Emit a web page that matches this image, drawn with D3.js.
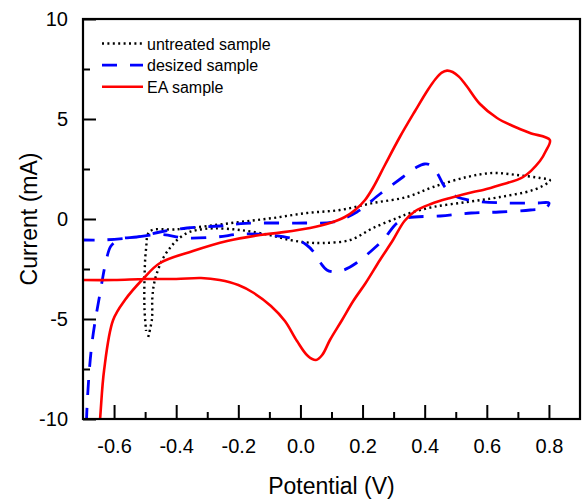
<!DOCTYPE html>
<html>
<head>
<meta charset="utf-8">
<script src="https://cdn.jsdelivr.net/npm/d3@7"></script>
<style>
  body { margin: 0; background: #fff; }
  text { font-family: Arial, "Liberation Sans", sans-serif; fill: #000; }
</style>
</head>
<body>
<svg id="chart" width="583" height="502"></svg>
<script>
// series labels
const seriesNames = ["untreated sample", "desized sample", "EA sample"];

// untreated sample: [potential V, current mA], one closed sweep
const untreated = [
  [-0.49, -5.9], [-0.478, -5.0], [-0.477, -4.0], [-0.472, -3.3], [-0.462, -2.7],
  [-0.442, -1.95], [-0.42, -1.45], [-0.397, -1.05], [-0.365, -0.7], [-0.333, -0.55],
  [-0.281, -0.47], [-0.195, -0.55], [-0.1, -0.8], [-0.034, -1.05], [0.02, -1.17],
  [0.073, -1.2], [0.16, -1.05], [0.234, -0.45], [0.311, 0.05], [0.353, 0.3],
  [0.427, 0.6], [0.536, 0.85], [0.643, 1.1], [0.749, 1.45], [0.8, 1.85],
  [0.803, 1.95], [0.771, 2.05], [0.697, 2.2], [0.62, 2.3], [0.536, 2.1],
  [0.427, 1.6], [0.343, 1.1], [0.234, 0.8], [0.127, 0.45], [0.021, 0.3],
  [-0.088, 0.05], [-0.195, -0.15], [-0.3, -0.35], [-0.4, -0.52], [-0.485, -0.62],
  [-0.497, -1.5], [-0.502, -3.0], [-0.502, -4.5], [-0.497, -5.6]
];

// desized sample
const desized = [
  [-0.692, -13], [-0.687, -9.4], [-0.671, -6.2], [-0.645, -3.7], [-0.625, -2.05],
  [-0.61, -1.35], [-0.58, -1.0], [-0.526, -0.9], [-0.452, -0.65], [-0.365, -0.45],
  [-0.259, -0.35], [-0.178, -0.22], [-0.082, -0.2], [0.015, -0.2], [0.105, -0.15],
  [0.182, 0.35], [0.256, 1.25], [0.33, 2.1], [0.375, 2.6], [0.4, 2.75], [0.418, 2.7],
  [0.44, 2.3], [0.465, 1.6], [0.498, 1.15], [0.562, 0.9], [0.665, 0.8],
  [0.765, 0.8], [0.8, 0.8], [0.79, 0.55], [0.74, 0.45], [0.64, 0.35],
  [0.55, 0.3], [0.45, 0.15], [0.343, 0.05], [0.311, -0.2], [0.266, -1.05],
  [0.224, -1.65], [0.18, -2.2], [0.14, -2.55], [0.11, -2.65], [0.085, -2.55],
  [0.065, -2.2], [0.045, -1.7], [0.02, -1.3], [-0.02, -1.0], [-0.1, -0.8],
  [-0.19, -0.75], [-0.27, -0.9], [-0.37, -0.95], [-0.45, -0.78], [-0.55, -0.95],
  [-0.64, -1.05], [-0.7, -1.05]
];

// EA sample
const eaSample = [
  [-0.66, -13], [-0.645, -10], [-0.632, -7.55], [-0.603, -5.05], [-0.565, -4.05],
  [-0.507, -3.0], [-0.452, -2.2], [-0.346, -1.6], [-0.236, -1.1], [-0.13, -0.8],
  [-0.066, -0.68], [0.031, -0.45], [0.095, -0.2], [0.143, 0.1], [0.176, 0.45],
  [0.208, 0.95], [0.235, 1.6], [0.272, 2.7], [0.32, 4.1], [0.369, 5.4],
  [0.41, 6.45], [0.435, 7.0], [0.455, 7.32], [0.472, 7.42], [0.49, 7.35],
  [0.51, 7.12], [0.535, 6.65], [0.578, 5.75], [0.633, 5.05], [0.684, 4.65],
  [0.739, 4.3], [0.803, 3.95],
  [0.79, 3.4], [0.771, 2.9], [0.717, 2.1], [0.643, 1.7], [0.588, 1.45],
  [0.556, 1.35], [0.482, 1.05], [0.42, 0.75], [0.37, 0.4], [0.335, -0.1],
  [0.298, -1.05], [0.256, -2.05], [0.21, -3.2], [0.17, -4.1],
  [0.134, -5.05], [0.095, -6.05], [0.07, -6.8], [0.05, -7.05], [0.024, -6.85],
  [-0.011, -6.1], [-0.05, -5.1], [-0.095, -4.35], [-0.15, -3.7], [-0.2, -3.3],
  [-0.26, -3.05], [-0.32, -2.95], [-0.4, -3.0], [-0.5, -3.0], [-0.6, -3.05],
  [-0.7, -3.05]
];

// tick values
const xMajor = [-0.6, -0.4, -0.2, 0.0, 0.2, 0.4, 0.6, 0.8];
const xMinor = [-0.5, -0.3, -0.1, 0.1, 0.3, 0.5, 0.7];
const yMajor = [-10, -5, 0, 5, 10];
const yMinor = [-7.5, -2.5, 2.5, 7.5];

const svg = d3.select("#chart");
const plotLeft = 83, plotTop = 19, plotRight = 580, plotBottom = 419;

const x = d3.scaleLinear().domain([-0.7, 0.9]).range([plotLeft, plotRight]);
const y = d3.scaleLinear().domain([-10, 10]).range([plotBottom, plotTop]);

// clip for the curves
svg.append("defs").append("clipPath").attr("id", "plot-clip")
  .append("rect")
  .attr("x", plotLeft).attr("y", plotTop)
  .attr("width", plotRight - plotLeft).attr("height", plotBottom - plotTop);

const line = d3.line()
  .x(d => x(d[0]))
  .y(d => y(d[1]))
  .curve(d3.curveCatmullRom.alpha(0.5));

const series = [
  { data: untreated, color: "#000", width: 2.4, dash: "2,3.4" },
  { data: desized, color: "#0000ff", width: 2.8, dash: "15,13" },
  { data: eaSample, color: "#ff0000", width: 2.6, dash: null }
];

const plot = svg.append("g").attr("clip-path", "url(#plot-clip)");
series.forEach(s => {
  plot.append("path")
    .datum(s.data)
    .attr("d", line)
    .attr("fill", "none")
    .attr("stroke", s.color)
    .attr("stroke-width", s.width)
    .attr("stroke-dasharray", s.dash)
    .attr("stroke-linejoin", "round");
});

// axes with inward ticks
svg.append("g").attr("transform", `translate(0,${plotBottom})`)
  .call(d3.axisBottom(x).tickValues(xMajor).tickFormat(d3.format(".1f"))
    .tickSizeInner(-14).tickSizeOuter(0).tickPadding(20));
svg.append("g").attr("transform", `translate(0,${plotBottom})`)
  .call(d3.axisBottom(x).tickValues(xMinor).tickFormat("")
    .tickSizeInner(-7).tickSizeOuter(0));

svg.append("g").attr("transform", `translate(${plotLeft},0)`)
  .call(d3.axisLeft(y).tickValues(yMajor)
    .tickSizeInner(-13).tickSizeOuter(0).tickPadding(15));
svg.append("g").attr("transform", `translate(${plotLeft},0)`)
  .call(d3.axisLeft(y).tickValues(yMinor).tickFormat("")
    .tickSizeInner(-7).tickSizeOuter(0));

svg.selectAll(".domain").remove();
svg.selectAll(".tick line").attr("stroke", "#000").attr("stroke-width", 2);
svg.selectAll(".tick text")
  .style("font-family", "Arial, 'Liberation Sans', sans-serif")
  .style("font-size", "20px")
  .text(function() { return this.textContent.replace("\u2212", "-"); });

// frame
svg.append("rect")
  .attr("x", plotLeft).attr("y", plotTop)
  .attr("width", plotRight - plotLeft).attr("height", plotBottom - plotTop)
  .attr("fill", "none")
  .attr("stroke", "#000")
  .attr("stroke-width", 2.2);

// axis titles
svg.append("text")
  .attr("x", (plotLeft + plotRight) / 2)
  .attr("y", 494)
  .attr("text-anchor", "middle")
  .style("font-size", "23px")
  .text("Potential (V)");

svg.append("text")
  .attr("transform", `translate(37,${(plotTop + plotBottom) / 2}) rotate(-90)`)
  .attr("text-anchor", "middle")
  .style("font-size", "23px")
  .text("Current (mA)");

// legend
const legend = svg.append("g");
series.forEach((s, i) => {
  const ly = 43.5 + i * 21.6;
  legend.append("line")
    .attr("x1", 102).attr("x2", 143)
    .attr("y1", ly).attr("y2", ly)
    .attr("stroke", s.color)
    .attr("stroke-width", s.width)
    .attr("stroke-dasharray", s.dash);
  legend.append("text")
    .attr("x", 147)
    .attr("y", ly + 6)
    .style("font-size", "16px")
    .text(seriesNames[i]);
});
</script>
</body>
</html>
